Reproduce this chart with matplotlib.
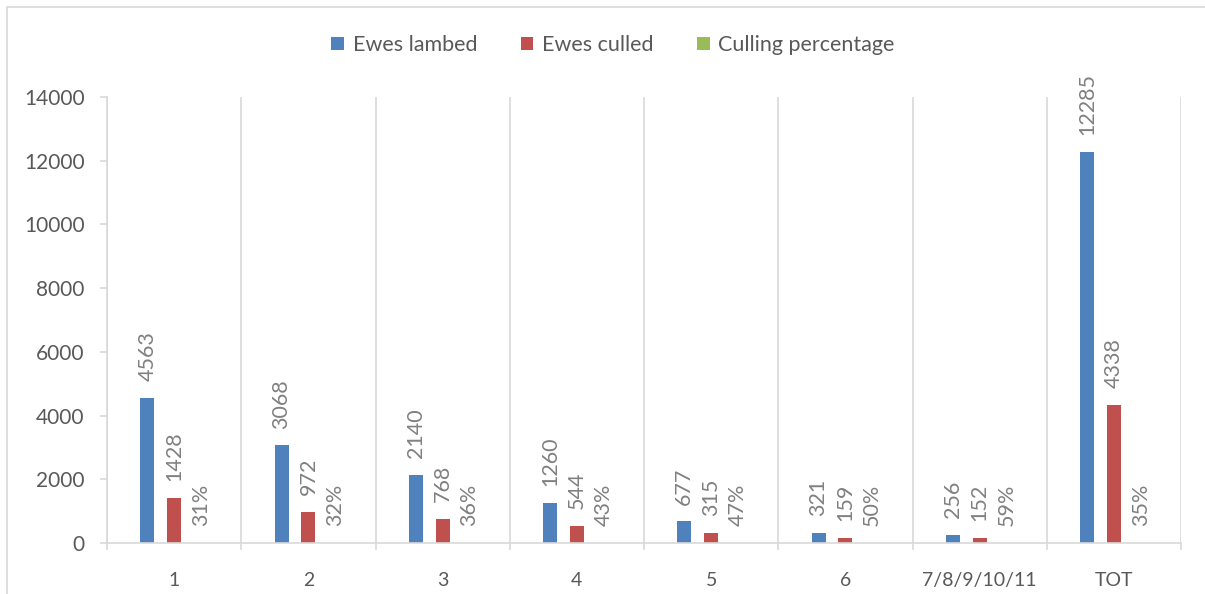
import matplotlib.pyplot as plt
import numpy as np
from matplotlib.patches import Rectangle

# data
categories = ["1", "2", "3", "4", "5", "6", "7/8/9/10/11", "TOT"]
ewes_lambed = [4563, 3068, 2140, 1260, 677, 321, 256, 12285]
ewes_culled = [1428, 972, 768, 544, 315, 159, 152, 4338]
culling_pct = [0.31, 0.32, 0.36, 0.43, 0.47, 0.50, 0.59, 0.35]

plt.rcParams['font.family'] = ['Lato', 'DejaVu Sans']

blue = '#4f81bd'
red = '#c0504d'
green = '#9bbb59'
axis_col = '#d9d9d9'
txt_col = '#595959'
lab_col = '#808080'

fig = plt.figure(figsize=(12.05, 5.94), dpi=100)
ax = fig.add_axes([107/1205, 1-543/594, (1181-107)/1205, (543-97)/594])

x = np.arange(len(categories))
w = 0.104
off = 0.2
b1 = ax.bar(x - off, ewes_lambed, w, color=blue, label='Ewes lambed')
b2 = ax.bar(x, ewes_culled, w, color=red, label='Ewes culled')
b3 = ax.bar(x + off, culling_pct, w, color=green, label='Culling percentage')

# data labels, rotated
for xs, vals in [(x - off, ewes_lambed), (x, ewes_culled)]:
    for xi, v in zip(xs, vals):
        ax.annotate('{:d}'.format(v), (xi, v), xytext=(0, 12), textcoords='offset points',
                    rotation=90, ha='center', va='bottom', fontsize=15.5, color=lab_col)
for xi, v in zip(x + off, culling_pct):
    ax.annotate('{:.0f}%'.format(v*100), (xi, v), xytext=(0, 12), textcoords='offset points',
                rotation=90, ha='center', va='bottom', fontsize=15.5, color=lab_col)

ax.set_xlim(-0.5, len(categories) - 0.5)
ax.set_ylim(0, 14000)
ax.set_yticks(np.arange(0, 14001, 2000))
ax.set_xticks(x)
ax.set_xticklabels(categories)
ax.set_xticks(np.arange(-0.5, len(categories), 1), minor=True)
ax.tick_params(axis='x', which='major', length=0, pad=21, labelsize=14, labelcolor=txt_col)
ax.tick_params(axis='x', which='minor', length=5, color=axis_col, width=1.2)
ax.tick_params(axis='y', length=5, color=axis_col, width=1.2, pad=11, labelsize=15, labelcolor=txt_col)
ax.grid(axis='x', which='minor', color=axis_col, linewidth=1.2)
ax.set_axisbelow(True)

for s in ['top', 'right']:
    ax.spines[s].set_visible(False)
for s in ['left', 'bottom']:
    ax.spines[s].set_color(axis_col)
    ax.spines[s].set_linewidth(1.2)

fig.legend(handles=[b1, b2, b3], loc='center', bbox_to_anchor=(613/1205, 1-45/594),
           ncol=3, frameon=False, fontsize=15.5, labelcolor=txt_col,
           handlelength=0.6, handleheight=0.6, handletextpad=0.4, columnspacing=2.0)

# outer chart border
fig.patches.append(Rectangle((7/1205, -0.05), 1.1, 1 - 7/594 + 0.05, transform=fig.transFigure,
                             fill=False, edgecolor=axis_col, linewidth=1.2))

fig.savefig('out.png', dpi=100)
